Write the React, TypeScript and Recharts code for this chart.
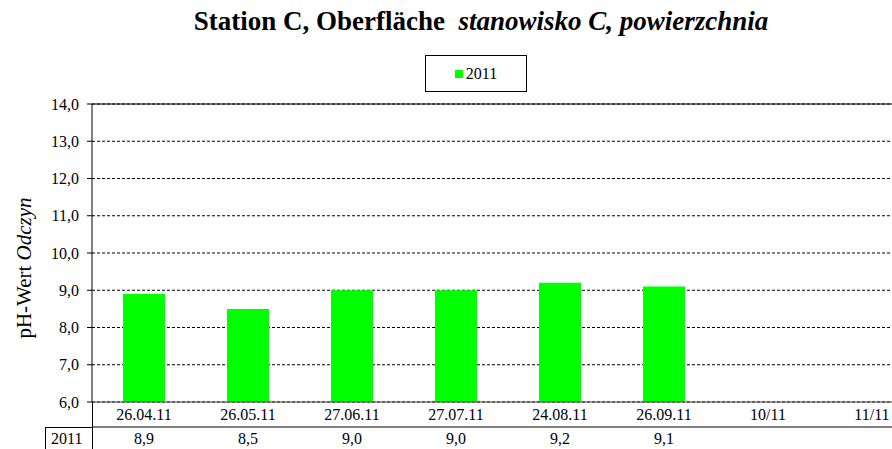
import React from 'react';
import { BarChart, Bar, XAxis, YAxis, CartesianGrid, Legend, ReferenceLine } from 'recharts';

const dates = ['26.04.11', '26.05.11', '27.06.11', '27.07.11', '24.08.11', '26.09.11', '10/11', '11/11'];
const ph2011: (number | null)[] = [8.9, 8.5, 9.0, 9.0, 9.2, 9.1, null, null];
const yTicks = [6, 7, 8, 9, 10, 11, 12, 13, 14];
const seriesName = '2011';

const FONT = '"Liberation Serif", "Times New Roman", serif';
const fmt = (v: number) => v.toFixed(1).replace('.', ',');

const chartData = dates.map((d, i) => ({ date: d, v2011: ph2011[i] }));

const DateTick = (props: any) => {
  const { x, payload } = props;
  return (
    <text x={x} y={420} textAnchor="middle" fontFamily={FONT} fontSize={16} fill="#000">
      {payload.value}
    </text>
  );
};

const TableTick = (props: any) => {
  const { x, payload } = props;
  const v = ph2011[payload.index];
  if (v == null) return null;
  return (
    <text x={x} y={444} textAnchor="middle" fontFamily={FONT} fontSize={16} fill="#000">
      {fmt(v)}
    </text>
  );
};

const ValueTick = (props: any) => {
  const { y, payload } = props;
  return (
    <text x={79} y={y} dy="0.35em" textAnchor="end" fontFamily={FONT} fontSize={16} fill="#000">
      {fmt(payload.value)}
    </text>
  );
};

const YLabel = () => {
  const cy = 268;
  const cx = 24;
  return (
    <text
      x={cx}
      y={cy}
      dy="0.35em"
      transform={`rotate(-90 ${cx} ${cy})`}
      textAnchor="middle"
      fontFamily={FONT}
      fontSize={21}
      fill="#000"
    >
      <tspan>pH-Wert </tspan>
      <tspan fontStyle="italic">Odczyn</tspan>
    </text>
  );
};

const LegendBox = () => (
  <div
    style={{
      width: 100,
      height: 35,
      border: '1px solid #000',
      display: 'flex',
      alignItems: 'center',
      justifyContent: 'center',
      fontFamily: FONT,
      fontSize: 16,
      background: '#fff',
    }}
  >
    <span style={{ display: 'inline-block', width: 8, height: 8, background: '#00ff00', marginRight: 3 }} />
    {seriesName}
  </div>
);

export default function App() {
  return (
    <div style={{ position: 'fixed', left: 0, top: 0, width: 892, height: 449, overflow: 'hidden', background: '#fff' }}>
      <div
        style={{
          position: 'absolute',
          top: 6,
          left: 0,
          width: 962,
          textAlign: 'center',
          fontFamily: FONT,
          fontWeight: 'bold',
          fontSize: 27,
          lineHeight: '31px',
          color: '#000',
          whiteSpace: 'pre',
        }}
      >
        {'Station C, Oberfläche  '}
        <span style={{ fontStyle: 'italic' }}>stanowisko C, powierzchnia</span>
      </div>
      <BarChart width={930} height={449} data={chartData} margin={{ top: 104, right: 6, bottom: 0, left: 0 }}>
        <CartesianGrid vertical={false} stroke="#000" strokeDasharray="3 2" />
        <ReferenceLine y={14} stroke="#000" />
        <XAxis
          dataKey="date"
          height={25}
          axisLine={{ stroke: '#444' }}
          tickLine={false}
          interval={0}
          tick={<DateTick />}
        />
        <XAxis
          xAxisId="tbl"
          dataKey="date"
          height={22}
          axisLine={{ stroke: '#000' }}
          tickLine={false}
          interval={0}
          tick={<TableTick />}
        />
        <YAxis
          width={92}
          domain={[6, 14]}
          ticks={yTicks}
          interval={0}
          axisLine={{ stroke: '#000' }}
          tickLine={{ stroke: '#000' }}
          tickSize={5}
          tick={<ValueTick />}
          label={<YLabel />}
        />
        <Legend
          layout="horizontal"
          verticalAlign="middle"
          align="center"
          content={<LegendBox />}
          wrapperStyle={{ position: 'absolute', top: 55, left: 425, width: 102, height: 37 }}
        />
        <Bar dataKey="v2011" name={seriesName} fill="#00ff00" barSize={42} isAnimationActive={false} />
      </BarChart>
      <div style={{ position: 'absolute', left: 92, top: 402, width: 1, height: 47, background: '#000' }} />
      <div style={{ position: 'absolute', left: 45, top: 427, width: 47, height: 1, background: '#000' }} />
      <div style={{ position: 'absolute', left: 45, top: 427, width: 1, height: 22, background: '#000' }} />
      <div
        style={{ position: 'absolute', left: 51, top: 429, fontFamily: FONT, fontSize: 16, lineHeight: '19px', color: '#000' }}
      >
        {seriesName}
      </div>
    </div>
  );
}
